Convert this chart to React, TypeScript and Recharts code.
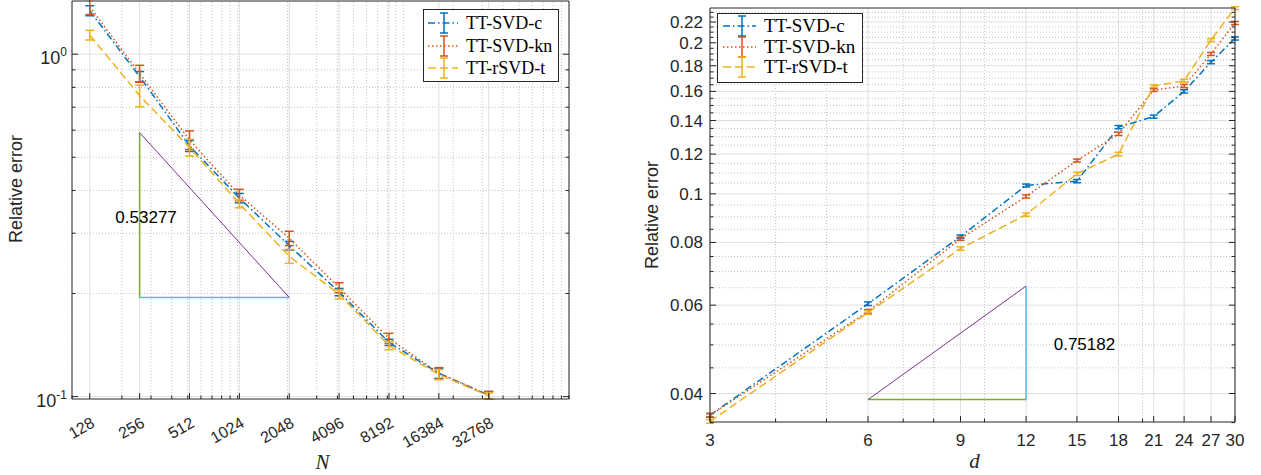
import React from "react";
import { LineChart, Line, XAxis, YAxis, ErrorBar, ReferenceLine, ReferenceDot, Legend, Label } from "recharts";

// ---- left panel: relative error against N ----
const sizesN = [128, 256, 512, 1024, 2048, 4096, 8192, 16384, 32768];
const svdCByN = [1.34, 0.86, 0.54, 0.38, 0.276, 0.202, 0.144, 0.117, 0.101];
const svdCByNErr = [0.045, 0.03, 0.02, 0.012, 0.008, 0.005, 0.003, 0.004, 0.0025];
const svdKnByN = [1.375, 0.878, 0.562, 0.388, 0.29, 0.208, 0.148, 0.117, 0.101];
const svdKnByNErr = [0.07, 0.05, 0.035, 0.015, 0.014, 0.007, 0.005, 0.0045, 0.0025];
const rsvdTByN = [1.137, 0.757, 0.534, 0.366, 0.257, 0.199, 0.141, 0.116, 0.1005];
const rsvdTByNErr = [0.037, 0.055, 0.03, 0.01, 0.012, 0.006, 0.004, 0.004, 0.002];

const nMajorTicks = [128, 256, 512, 1024, 2048, 4096, 8192, 16384, 32768];
const nMinorTicks = [100, 200, 300, 400, 500, 600, 700, 800, 900, 1000, 2000, 3000, 4000, 5000, 6000, 7000, 8000, 9000, 10000, 20000, 30000, 40000, 50000, 60000, 70000, 80000, 90000, 100000];
const errMajorTicksN = [0.1, 1];
const errMinorTicksN = [0.2, 0.3, 0.4, 0.5, 0.6, 0.7, 0.8, 0.9];

// slope triangle (left)
const slopeRunN = [256, 2048];
const slopeLevelsN = [0.1948, 0.59];
const slopeTextN = "0.53277";
const slopeTextAtN = [280, 0.334];

// ---- right panel: relative error against d ----
const dims = [3, 6, 9, 12, 15, 18, 21, 24, 27, 30];
const svdCByD = [0.0362, 0.0604, 0.0822, 0.1039, 0.106, 0.1358, 0.1425, 0.16, 0.183, 0.204];
const svdCByDErr = [0.0003, 0.0005, 0.0006, 0.0007, 0.0008, 0.001, 0.001, 0.0012, 0.0013, 0.0015];
const svdKnByD = [0.0362, 0.0583, 0.0814, 0.0988, 0.1165, 0.1317, 0.161, 0.164, 0.19, 0.219];
const svdKnByDErr = [0.0003, 0.0005, 0.0006, 0.0007, 0.0008, 0.001, 0.001, 0.0012, 0.0013, 0.0015];
const rsvdTByD = [0.0352, 0.058, 0.0778, 0.0909, 0.1096, 0.12, 0.164, 0.168, 0.2025, 0.2345];
const rsvdTByDErr = [0.0003, 0.0005, 0.0006, 0.0007, 0.0008, 0.001, 0.001, 0.0012, 0.0013, 0.0015];

const dMajorTicks = [3, 6, 9, 12, 15, 18, 21, 24, 27, 30];
const dMinorTicks = [4, 5, 7, 8, 10, 20];
const errMajorTicksD = [0.04, 0.06, 0.08, 0.1, 0.12, 0.14, 0.16, 0.18, 0.2, 0.22];
const errMinorTicksD = [0.035, 0.045, 0.05, 0.055, 0.065, 0.07, 0.075, 0.085, 0.09, 0.095, 0.105, 0.11, 0.115, 0.125, 0.13, 0.135, 0.145, 0.15, 0.155, 0.165, 0.17, 0.175, 0.185, 0.19, 0.195, 0.205, 0.21, 0.215, 0.225, 0.23];

// slope triangle (right)
const slopeRunD = [6, 12];
const slopeLevelsD = [0.0389, 0.0655];
const slopeTextD = "0.75182";
const slopeTextAtD = [15.5, 0.0501];

const SERIES = [
  { name: "TT-SVD-c", key: "c", color: "#0072BD", dash: "7 3 1.5 3" },
  { name: "TT-SVD-kn", key: "kn", color: "#D95319", dash: "1.5 2.5" },
  { name: "TT-rSVD-t", key: "t", color: "#EDB120", dash: "8 4" },
];

const AXIS = "#262626";
const SANS = "'Liberation Sans', Arial, Helvetica, sans-serif";
const SERIF = "'Liberation Serif', 'Times New Roman', serif";
const GREEN = "#77AC30";
const CYAN = "#4DBEEE";
const PURPLE = "#7E2F8E";

type Side = "bottom" | "top" | "left" | "right";
type LabelFn = (v: number, x: number, y: number) => React.ReactNode;

const isIn = (list: number[], v: number) => list.some((m) => Math.abs(m - v) <= 1e-9 * Math.abs(m));

function tickMaker(side: Side, majors: number[], label?: LabelFn) {
  return (props: any) => {
    const { x, y, payload } = props;
    const v = Number(payload?.value);
    const major = isIn(majors, v);
    const len = major ? 6 : 3.5;
    let x2 = x;
    let y2 = y;
    if (side === "bottom") y2 = y - len;
    if (side === "top") y2 = y + len;
    if (side === "left") x2 = x + len;
    if (side === "right") x2 = x - len;
    return (
      <g>
        <line x1={x} y1={y} x2={x2} y2={y2} stroke={AXIS} strokeWidth={1} />
        {major && label ? label(v, x, y) : null}
      </g>
    );
  };
}

interface LegendLayout {
  left: number;
  top: number;
  width: number;
  height: number;
  rows: number[];
  sampleX: number;
  sampleW: number;
  glyphX: number;
  textX: number;
  fontSize: number;
}

function LegendBox({ box }: { box: LegendLayout }) {
  return (
    <div
      style={{
        position: "relative",
        width: box.width,
        height: box.height,
        border: `1px solid ${AXIS}`,
        background: "#fff",
        boxSizing: "border-box",
      }}
    >
      {SERIES.map((s, i) => (
        <div key={s.key} style={{ position: "absolute", left: 0, top: box.rows[i] - 12, height: 22, width: box.width - 2 }}>
          <svg width={box.textX} height={22} style={{ position: "absolute", left: 0, top: 0 }}>
            <line x1={box.sampleX} x2={box.sampleX + box.sampleW} y1={11} y2={11} stroke={s.color} strokeWidth={1.5} strokeDasharray={s.dash} />
            <line x1={box.glyphX} x2={box.glyphX} y1={1} y2={21} stroke={s.color} strokeWidth={1.5} />
            <line x1={box.glyphX - 4} x2={box.glyphX + 4} y1={1} y2={1} stroke={s.color} strokeWidth={1.5} />
            <line x1={box.glyphX - 4} x2={box.glyphX + 4} y1={21} y2={21} stroke={s.color} strokeWidth={1.5} />
          </svg>
          <span
            style={{
              position: "absolute",
              left: box.textX,
              top: 0,
              lineHeight: "22px",
              fontFamily: SERIF,
              fontSize: box.fontSize,
              color: "#000",
              whiteSpace: "nowrap",
            }}
          >
            {s.name}
          </span>
        </div>
      ))}
    </div>
  );
}

interface PanelProps {
  width: number;
  height: number;
  margin: { top: number; right: number; bottom: number; left: number };
  yAxisWidth: number;
  xAxisHeight: number;
  rows: any[];
  xKey: string;
  xDomain: number[];
  yDomain: number[];
  xMajor: number[];
  xMinor: number[];
  yMajor: number[];
  yMinor: number[];
  xTickLabel: LabelFn;
  yTickLabel: LabelFn;
  xTitle: string;
  xTitleDy: number;
  yTitleDx: number;
  yTitleDy: number;
  capWidth: number;
  legs: { data: any[]; color: string; width: number }[];
  note: { x: number; y: number; text: string };
  legend: LegendLayout;
}

function ErrorPanel(p: PanelProps) {
  const allX = [...p.xMinor, ...p.xMajor];
  const allY = [...p.yMinor, ...p.yMajor];
  return (
    <LineChart width={p.width} height={p.height} data={p.rows} margin={p.margin}>
      {p.xMinor.map((v) => (
        <ReferenceLine key={`xm${v}`} x={v} stroke="#c4c4c4" strokeDasharray="1 2" strokeWidth={1} />
      ))}
      {p.yMinor.map((v) => (
        <ReferenceLine key={`ym${v}`} y={v} stroke="#c4c4c4" strokeDasharray="1 2" strokeWidth={1} />
      ))}
      {p.xMajor.map((v) => (
        <ReferenceLine key={`xM${v}`} x={v} stroke="#dfdfdf" strokeWidth={1} />
      ))}
      {p.yMajor.map((v) => (
        <ReferenceLine key={`yM${v}`} y={v} stroke="#dfdfdf" strokeWidth={1} />
      ))}

      <XAxis
        dataKey={p.xKey}
        type="number"
        scale="log"
        domain={p.xDomain}
        allowDataOverflow
        ticks={allX}
        interval={0}
        tickSize={0}
        tickMargin={0}
        tickLine={false}
        height={p.xAxisHeight}
        stroke={AXIS}
        tick={tickMaker("bottom", p.xMajor, p.xTickLabel)}
      >
        <Label
          content={(lp: any) => {
            const vb = lp.viewBox || { x: 0, y: 0, width: 0, height: 0 };
            return (
              <text
                x={vb.x + vb.width / 2 + 2}
                y={vb.y + p.xTitleDy}
                textAnchor="middle"
                fontFamily={SERIF}
                fontStyle="italic"
                fontSize={21}
                fill={AXIS}
              >
                {p.xTitle}
              </text>
            );
          }}
        />
      </XAxis>
      <XAxis
        xAxisId="top"
        orientation="top"
        type="number"
        scale="log"
        domain={p.xDomain}
        allowDataOverflow
        ticks={allX}
        interval={0}
        tickSize={0}
        tickMargin={0}
        tickLine={false}
        height={1}
        stroke={AXIS}
        tick={tickMaker("top", p.xMajor)}
      />
      <YAxis
        type="number"
        scale="log"
        domain={p.yDomain}
        allowDataOverflow
        ticks={allY}
        interval={0}
        tickSize={0}
        tickMargin={0}
        tickLine={false}
        width={p.yAxisWidth}
        stroke={AXIS}
        tick={tickMaker("left", p.yMajor, p.yTickLabel)}
      >
        <Label
          content={(lp: any) => {
            const vb = lp.viewBox || { x: 0, y: 0, width: 0, height: 0 };
            const cx = vb.x + p.yTitleDx;
            const cy = vb.y + vb.height / 2 + p.yTitleDy;
            return (
              <text
                x={cx}
                y={cy}
                transform={`rotate(-90 ${cx} ${cy})`}
                textAnchor="middle"
                dominantBaseline="central"
                fontFamily={SANS}
                fontSize={18}
                fill={AXIS}
              >
                Relative error
              </text>
            );
          }}
        />
      </YAxis>
      <YAxis
        yAxisId="right"
        orientation="right"
        type="number"
        scale="log"
        domain={p.yDomain}
        allowDataOverflow
        ticks={allY}
        interval={0}
        tickSize={0}
        tickMargin={0}
        tickLine={false}
        width={10}
        stroke={AXIS}
        tick={tickMaker("right", p.yMajor)}
      />

      {p.legs.map((leg, i) => (
        <Line
          key={`leg${i}`}
          data={leg.data}
          dataKey="v"
          type="linear"
          stroke={leg.color}
          strokeWidth={leg.width}
          dot={false}
          legendType="none"
          isAnimationActive={false}
        />
      ))}

      {SERIES.map((s) => (
        <Line
          key={s.key}
          dataKey={s.key}
          name={s.name}
          type="linear"
          stroke={s.color}
          strokeWidth={1.5}
          strokeDasharray={s.dash}
          dot={false}
          isAnimationActive={false}
        >
          <ErrorBar dataKey={`${s.key}Err`} direction="y" width={p.capWidth} stroke={s.color} strokeWidth={1.5} />
        </Line>
      ))}

      <ReferenceDot
        x={p.note.x}
        y={p.note.y}
        r={1}
        fill="none"
        stroke="none"
        label={{ value: p.note.text, position: "center", fill: "#000", fontSize: 17, fontFamily: SANS }}
      />

      <Legend
        layout="vertical"
        align="center"
        verticalAlign="middle"
        wrapperStyle={{ left: p.legend.left, top: p.legend.top, width: p.legend.width, height: p.legend.height }}
        content={() => <LegendBox box={p.legend} />}
      />
    </LineChart>
  );
}

const leftRows = sizesN.map((n, i) => ({
  n,
  c: svdCByN[i],
  cErr: svdCByNErr[i],
  kn: svdKnByN[i],
  knErr: svdKnByNErr[i],
  t: rsvdTByN[i],
  tErr: rsvdTByNErr[i],
}));

const rightRows = dims.map((d, i) => ({
  d,
  c: svdCByD[i],
  cErr: svdCByDErr[i],
  kn: svdKnByD[i],
  knErr: svdKnByDErr[i],
  t: rsvdTByD[i],
  tErr: rsvdTByDErr[i],
}));

const leftLegs = [
  { data: [{ n: slopeRunN[0], v: slopeLevelsN[0] }, { n: slopeRunN[0], v: slopeLevelsN[1] }], color: GREEN, width: 1.5 },
  { data: [{ n: slopeRunN[0], v: slopeLevelsN[0] }, { n: slopeRunN[1], v: slopeLevelsN[0] }], color: CYAN, width: 1.5 },
  { data: [{ n: slopeRunN[0], v: slopeLevelsN[1] }, { n: slopeRunN[1], v: slopeLevelsN[0] }], color: PURPLE, width: 1 },
];

const rightLegs = [
  { data: [{ d: slopeRunD[0], v: slopeLevelsD[0] }, { d: slopeRunD[1], v: slopeLevelsD[0] }], color: GREEN, width: 1.5 },
  { data: [{ d: slopeRunD[1], v: slopeLevelsD[0] }, { d: slopeRunD[1], v: slopeLevelsD[1] }], color: CYAN, width: 1.5 },
  { data: [{ d: slopeRunD[0], v: slopeLevelsD[0] }, { d: slopeRunD[1], v: slopeLevelsD[1] }], color: PURPLE, width: 1 },
];

const powerLabel: LabelFn = (v, x, y) => (
  <text x={x - 5} y={y + 10} textAnchor="end" fontFamily={SANS} fontSize={18} fill={AXIS}>
    10
    <tspan dy={-8} fontSize={12}>
      {String(Math.round(Math.log10(v)))}
    </tspan>
  </text>
);

const slantedLabel: LabelFn = (v, x, y) => (
  <text
    x={x + 6}
    y={y + 27}
    transform={`rotate(-30 ${x + 6} ${y + 27})`}
    textAnchor="end"
    fontFamily={SANS}
    fontSize={16}
    fill={AXIS}
  >
    {v}
  </text>
);

const plainXLabel: LabelFn = (v, x, y) => (
  <text x={x} y={y + 24} textAnchor="middle" fontFamily={SANS} fontSize={17} fill={AXIS}>
    {v}
  </text>
);

const plainYLabel: LabelFn = (v, x, y) => (
  <text x={x - 7} y={y + 6} textAnchor="end" fontFamily={SANS} fontSize={17} fill={AXIS}>
    {v}
  </text>
);

export default function App() {
  return (
    <div style={{ position: "absolute", left: 0, top: 0, width: 1261, height: 475, background: "#fff" }}>
      <div style={{ position: "absolute", left: 0, top: 0 }}>
        <ErrorPanel
          width={620}
          height={475}
          margin={{ top: 0, right: 41, bottom: 16, left: 0 }}
          yAxisWidth={72}
          xAxisHeight={60}
          rows={leftRows}
          xKey="n"
          xDomain={[100, 100000]}
          yDomain={[0.0984, 1.43]}
          xMajor={nMajorTicks}
          xMinor={nMinorTicks}
          yMajor={errMajorTicksN}
          yMinor={errMinorTicksN}
          xTickLabel={slantedLabel}
          yTickLabel={powerLabel}
          xTitle="N"
          xTitleDy={70}
          yTitleDx={16}
          yTitleDy={-11}
          capWidth={4.5}
          legs={leftLegs}
          note={{ x: slopeTextAtN[0], y: slopeTextAtN[1], text: slopeTextN }}
          legend={{ left: 423, top: 9, width: 136, height: 73, rows: [14, 37, 59], sampleX: 4, sampleW: 30, glyphX: 20, textX: 42, fontSize: 18 }}
        />
      </div>
      <div style={{ position: "absolute", left: 620, top: 0 }}>
        <ErrorPanel
          width={641}
          height={475}
          margin={{ top: 7, right: 16, bottom: 13, left: 0 }}
          yAxisWidth={90}
          xAxisHeight={40}
          rows={rightRows}
          xKey="d"
          xDomain={[3, 30]}
          yDomain={[0.0351, 0.2346]}
          xMajor={dMajorTicks}
          xMinor={dMinorTicks}
          yMajor={errMajorTicksD}
          yMinor={errMinorTicksD}
          xTickLabel={plainXLabel}
          yTickLabel={plainYLabel}
          xTitle="d"
          xTitleDy={46}
          yTitleDx={32}
          yTitleDy={0}
          capWidth={4}
          legs={rightLegs}
          note={{ x: slopeTextAtD[0], y: slopeTextAtD[1], text: slopeTextD }}
          legend={{ left: 97, top: 13, width: 146, height: 70, rows: [13, 34, 54], sampleX: 5, sampleW: 33, glyphX: 24, textX: 46, fontSize: 19 }}
        />
      </div>
    </div>
  );
}
